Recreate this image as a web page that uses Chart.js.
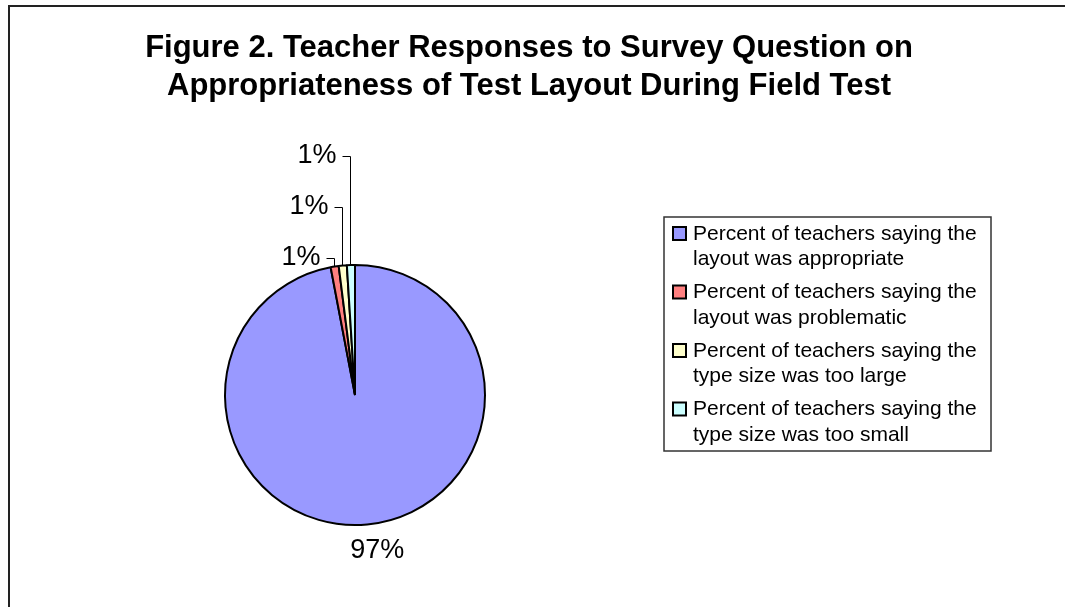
<!DOCTYPE html>
<html>
<head>
<meta charset="utf-8">
<script src="https://cdn.jsdelivr.net/npm/chart.js@4/dist/chart.umd.min.js"></script>
<style>
    body { margin: 0; background: #fff; }
    #cadre { position: absolute; left: 8px; top: 5px; width: 1100px; height: 700px;
             border-left: 2px solid #222; border-top: 2px solid #222; }
    #zone { position: absolute; left: 0; top: 0; width: 1065px; height: 607px; }
</style>
</head>
<body>
<div id="cadre"></div>
<div id="zone"><canvas id="camembert"></canvas></div>
<script>
// Données du graphique
const titre = [
    'Figure 2. Teacher Responses to Survey Question on',
    'Appropriateness of Test Layout During Field Test'
];
const categories = [
    ['Percent of teachers saying the', 'layout was appropriate'],
    ['Percent of teachers saying the', 'layout was problematic'],
    ['Percent of teachers saying the', 'type size was too large'],
    ['Percent of teachers saying the', 'type size was too small']
];
const pourcentages = [97, 1, 1, 1];
const couleurs = ['#9999FF', '#FF8080', '#FFFFCC', '#CCFFFF'];

// Plugin : titre, légende et étiquettes avec lignes de rappel
const decorations = {
    id: 'decorations',
    afterDraw(chart) {
        const ctx = chart.ctx;
        const meta = chart.getDatasetMeta(0);
        ctx.save();

        // Titre
        ctx.fillStyle = '#000';
        ctx.font = 'bold 31px Arial, "Liberation Sans", sans-serif';
        ctx.textAlign = 'center';
        ctx.textBaseline = 'alphabetic';
        titre.forEach((ligne, i) => ctx.fillText(ligne, 529, 57 + i * 38));

        // Légende
        ctx.strokeStyle = '#333';
        ctx.lineWidth = 1.5;
        ctx.strokeRect(664, 217, 327, 234);
        ctx.font = '21px Arial, "Liberation Sans", sans-serif';
        ctx.textAlign = 'left';
        ctx.textBaseline = 'middle';
        categories.forEach((lignes, i) => {
            const y = 234 + i * 58.5;
            ctx.fillStyle = couleurs[i];
            ctx.fillRect(673, y - 7, 13, 13);
            ctx.strokeStyle = '#000';
            ctx.lineWidth = 2;
            ctx.strokeRect(673, y - 7, 13, 13);
            ctx.fillStyle = '#000';
            lignes.forEach((t, j) => ctx.fillText(t, 693, y + j * 25.5));
        });

        // Étiquettes des secteurs
        ctx.font = '27px Arial, "Liberation Sans", sans-serif';
        ctx.strokeStyle = '#000';
        ctx.lineWidth = 1;
        meta.data.forEach((arc, i) => {
            const p = arc.getProps(['x', 'y', 'startAngle', 'endAngle', 'outerRadius'], true);
            const milieu = (p.startAngle + p.endAngle) / 2;
            const px = p.x + Math.cos(milieu) * p.outerRadius;
            const py = p.y + Math.sin(milieu) * p.outerRadius;
            const texte = pourcentages[i] + '%';
            if (i === 0) {
                ctx.textAlign = 'center';
                ctx.fillText(texte, px + 10, py + 26);
            } else {
                const xl = Math.round(px) - 0.5;
                const yl = Math.round(py - 9 - (i - 1) * 50) + 0.5;
                ctx.beginPath();
                ctx.moveTo(xl - 8, yl);
                ctx.lineTo(xl, yl);
                ctx.lineTo(xl, py);
                ctx.stroke();
                ctx.textAlign = 'right';
                ctx.fillText(texte, xl - 14, yl - 1);
            }
        });
        ctx.restore();
    }
};

new Chart(document.getElementById('camembert'), {
    type: 'pie',
    data: {
        labels: categories.map(l => l.join(' ')),
        datasets: [{
            data: pourcentages,
            backgroundColor: couleurs,
            borderColor: '#000',
            borderWidth: 2
        }]
    },
    options: {
        responsive: true,
        maintainAspectRatio: false,
        animation: false,
        layout: { padding: { left: 224, top: 264, right: 579, bottom: 81 } },
        plugins: {
            legend: { display: false },
            title: { display: false },
            tooltip: { enabled: false }
        }
    },
    plugins: [decorations]
});
</script>
</body>
</html>
